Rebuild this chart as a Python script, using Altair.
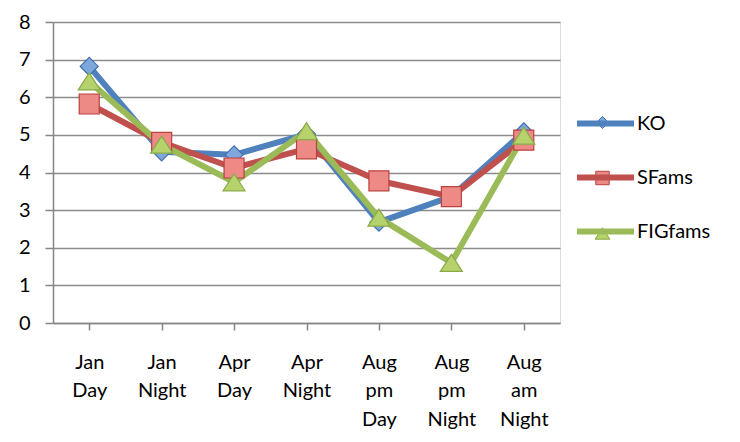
import altair as alt
import pandas as pd

categories = ["Jan Day", "Jan Night", "Apr Day", "Apr Night", "Aug pm Day", "Aug pm Night", "Aug am Night"]
series = ["KO", "SFams", "FIGfams"]
ko = [6.82, 4.55, 4.47, 5.02, 2.68, 3.36, 5.08]
sfams = [5.82, 4.8, 4.12, 4.63, 3.78, 3.36, 4.86]
figfams = [6.42, 4.74, 3.74, 5.1, 2.8, 1.6, 4.98]

line_colors = ["#4F81BD", "#C0504D", "#9BBB59"]
fill_colors = ["#7EA8DC", "#EE8A86", "#B5D26C"]
stroke_colors = ["#3F6FAE", "#B9413E", "#8BAA48"]
shapes = ["M-0.9,0L0,-0.9L0.9,0L0,0.9Z", "M-1,-1H1V1H-1Z", "M-1.1,0.85L0,-0.85L1.1,0.85Z"]

rows = []
for s, vals in zip(series, [ko, sfams, figfams]):
    for i, (c, v) in enumerate(zip(categories, vals)):
        rows.append({"series": s, "s2": s, "cat": c, "idx": i, "value": v})
df = pd.DataFrame(rows)

FONT = "Lato"

x_enc = alt.X(
    "cat:N", sort=categories, title=None,
    scale=alt.Scale(padding=0.5),
    axis=alt.Axis(labelExpr="split(datum.label, ' ')", labelAngle=0, labelFontSize=20,
                  labelFont=FONT, labelColor="black", labelLineHeight=28.5, labelPadding=22,
                  labelBaseline="top", domainColor="#868686", domainWidth=1.5,
                  tickColor="#868686", tickSize=7, tickWidth=1.5, grid=False),
)
y_enc = alt.Y(
    "value:Q", title=None,
    scale=alt.Scale(domain=[0, 8], nice=False),
    axis=alt.Axis(values=list(range(0, 9)), labelFontSize=20, labelFont=FONT, labelColor="black",
                  labelPadding=15, domainColor="#868686", domainWidth=1.5, tickColor="#868686",
                  tickSize=8, tickWidth=1.5, gridColor="#8C8C8C", gridWidth=1.5),
)

line_legend = alt.Legend(orient="none", legendX=521, legendY=70, title=None, symbolType="stroke",
                         symbolSize=3249, symbolStrokeWidth=6, labelFontSize=20, labelFont=FONT,
                         labelColor="black", labelOffset=0, rowPadding=10)

lines = alt.Chart(df).mark_line(strokeWidth=6).encode(
    x=x_enc, y=y_enc,
    color=alt.Color("series:N", scale=alt.Scale(domain=series, range=line_colors), legend=line_legend),
    order=alt.Order("idx:Q"),
)

pt_legend = alt.Legend(orient="none", legendX=542, legendY=93, title=None, symbolSize=180,
                       symbolStrokeWidth=1, labelExpr="''", labelFontSize=1, labelOffset=0,
                       rowPadding=37.5)

points = alt.Chart(df).mark_point(filled=True, size=400, strokeWidth=1.2, opacity=1).encode(
    x=x_enc, y=y_enc,
    shape=alt.Shape("s2:N", scale=alt.Scale(domain=series, range=shapes), legend=pt_legend),
    fill=alt.Fill("s2:N", scale=alt.Scale(domain=series, range=fill_colors), legend=pt_legend),
    stroke=alt.Stroke("s2:N", scale=alt.Scale(domain=series, range=stroke_colors), legend=pt_legend),
)

chart = alt.layer(lines, points).resolve_scale(color="independent").properties(
    width=507, height=301,
    autosize=alt.AutoSizeParams(type="none"),
    padding={"left": 45, "top": 14, "right": 172, "bottom": 111},
).configure_view(stroke=None).configure(background="white")

chart.save("out.html", embed_options={"renderer": "svg", "actions": False})
